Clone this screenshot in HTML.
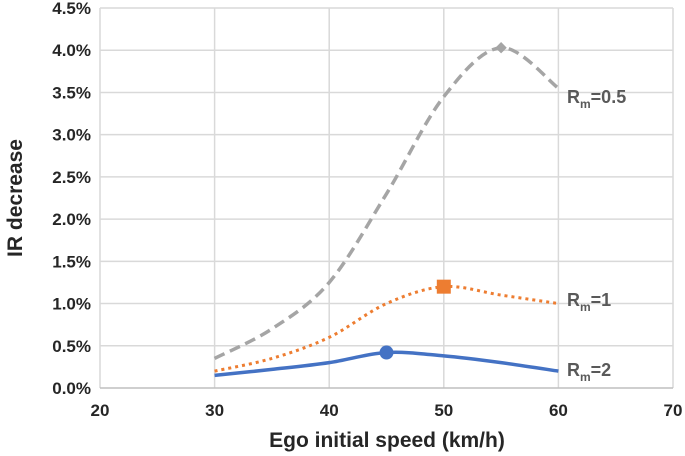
<!DOCTYPE html>
<html><head><meta charset="utf-8"><style>
body{margin:0;background:#fff;}
svg{display:block;font-family:"Liberation Sans",sans-serif;}
</style></head><body>
<svg id="chart" width="685" height="456">
<g id="grid"></g><g id="series"></g><g id="labels"></g>
</svg>
<script>
const xTicks=[20,30,40,50,60,70];
const yTicks=[0,0.5,1.0,1.5,2.0,2.5,3.0,3.5,4.0,4.5];
const speeds=[30,35,40,45,50,55,60];
const rm05=[0.35,0.7,1.25,2.3,3.45,4.03,3.55];
const rm1=[0.2,0.35,0.6,1.0,1.2,1.1,1.0];
const rm2=[0.15,0.22,0.3,0.42,0.38,0.3,0.2];
const NS="http://www.w3.org/2000/svg";
const X0=100,X1=673,Y0=388,Y1=8;
function sx(v){return X0+(v-20)/(70-20)*(X1-X0);}
function sy(v){return Y0-(v-0)/(4.5)*(Y0-Y1);}
function mk(t,a,p){const e=document.createElementNS(NS,t);for(const k in a)e.setAttribute(k,a[k]);p.appendChild(e);return e;}
const grid=document.getElementById('grid'),ser=document.getElementById('series'),lab=document.getElementById('labels');
xTicks.forEach(t=>{
 const l=mk('line',{x1:sx(t),x2:sx(t),y1:Y1,y2:Y0,stroke:'#d9d9d9','stroke-width':1.5},grid);
 
 const tx=mk('text',{x:sx(t),y:416,'text-anchor':'middle','font-size':17,'font-weight':'bold',fill:'#262626'},lab);
 tx.textContent=t;
});
yTicks.forEach(t=>{
 const l=mk('line',{x1:X0,x2:X1,y1:sy(t),y2:sy(t),stroke:t===0?'#bfbfbf':'#d9d9d9','stroke-width':1.5},grid);
 
 const tx=mk('text',{x:91,y:sy(t)+6,'text-anchor':'end','font-size':17,'font-weight':'bold',fill:'#262626'},lab);
 tx.textContent=t.toFixed(1)+'%';
});
function path(vals){
 const p=speeds.map((s,i)=>[sx(s),sy(vals[i])]);
 let d='M'+p[0][0]+','+p[0][1];
 for(let i=0;i<p.length-1;i++){
  const a=p[Math.max(i-1,0)],b=p[i],c=p[i+1],e=p[Math.min(i+2,p.length-1)];
  const c1=[b[0]+(c[0]-a[0])/6,b[1]+(c[1]-a[1])/6],c2=[c[0]-(e[0]-b[0])/6,c[1]-(e[1]-b[1])/6];
  d+=` C${c1[0]},${c1[1]} ${c2[0]},${c2[1]} ${c[0]},${c[1]}`;
 }
 return d;
}
const s1=mk('path',{d:path(rm05),fill:'none',stroke:'#a5a5a5','stroke-width':3.5,'stroke-dasharray':'11,6'},ser);

const s2=mk('path',{d:path(rm1),fill:'none',stroke:'#ed7d31','stroke-width':3,'stroke-dasharray':'3,4'},ser);

const s3=mk('path',{d:path(rm2),fill:'none',stroke:'#4472c4','stroke-width':3.5},ser);

const m1=mk('rect',{x:sx(speeds[5])-4,y:sy(rm05[5])-4,width:8,height:8,fill:'#a5a5a5',transform:`rotate(45 ${sx(speeds[5])} ${sy(rm05[5])})`},ser);

const m2=mk('rect',{x:sx(speeds[4])-7,y:sy(rm1[4])-7,width:14,height:14,fill:'#ed7d31'},ser);

const m3=mk('circle',{cx:sx(speeds[3]),cy:sy(rm2[3]),r:7,fill:'#4472c4'},ser);

function seriesLabel(sub,val,y,name){
 const t=mk('text',{x:567,y:y,'font-size':18,'font-weight':'bold',fill:'#595959'},lab);
 t.innerHTML=`R<tspan font-size="12" dy="5">m</tspan><tspan dy="-5">=${val}</tspan>`;
 
}
seriesLabel('m','0.5',103,'label-rm-0.5');
seriesLabel('m','1',306,'label-rm-1');
seriesLabel('m','2',376,'label-rm-2');
const xt=mk('text',{x:387,y:447,'text-anchor':'middle','font-size':21,'font-weight':'bold',fill:'#262626'},lab);
xt.textContent='Ego initial speed (km/h)';
const yt=mk('text',{x:22,y:198,'text-anchor':'middle','font-size':21,'font-weight':'bold',fill:'#262626',transform:'rotate(-90 22 198)'},lab);
yt.textContent='IR decrease';
</script>
</body></html>
